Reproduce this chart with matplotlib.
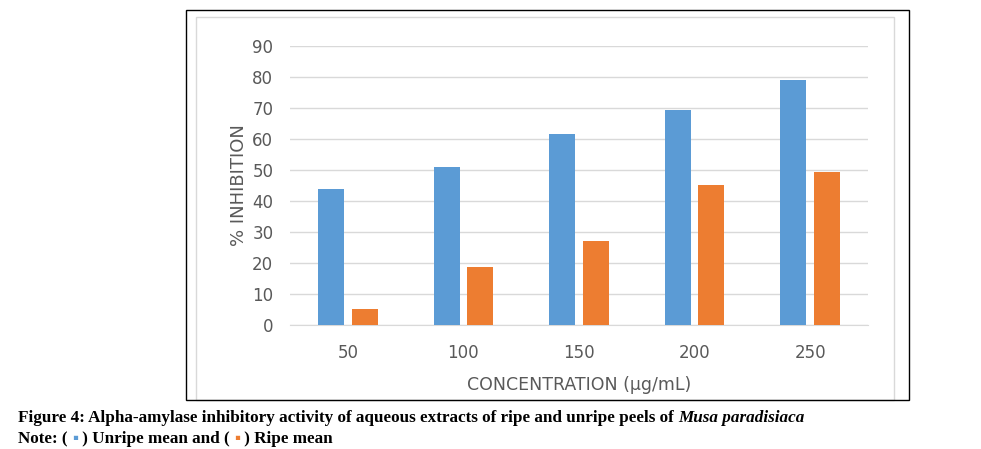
import matplotlib
matplotlib.use("Agg")
import matplotlib.pyplot as plt
from matplotlib.patches import Rectangle
import numpy as np

concentrations = ["50", "100", "150", "200", "250"]
unripe_mean = [44.0, 51.0, 61.5, 69.2, 79.0]
ripe_mean = [5.3, 18.7, 27.0, 45.3, 49.5]
y_ticks = [0, 10, 20, 30, 40, 50, 60, 70, 80, 90]

W, H = 981, 449
BLUE = "#5B9BD5"
ORANGE = "#ED7D31"
GRAY_TXT = "#595959"

fig = plt.figure(figsize=(W / 100, H / 100), dpi=100)

def px(x0, y0, x1, y1):
    # pixel box (top-left origin) -> figure fraction
    return [x0 / W, 1 - y1 / H, (x1 - x0) / W, (y1 - y0) / H]

# inner chart-area border (bottom hidden under the frame) and outer black frame
fig.patches.append(Rectangle((196 / W, 1 - 400 / H), (894 - 196) / W, (400 - 17) / H,
                             transform=fig.transFigure, fill=False, ec="#D9D9D9", lw=1.0))
fig.patches.append(Rectangle((186 / W, 1 - 400 / H), (909 - 186) / W, (400 - 10) / H,
                             transform=fig.transFigure, fill=False, ec="black", lw=1.0))

ax = fig.add_axes(px(290, 46, 868, 325))
x = np.arange(len(concentrations))
bw = 0.225
off = 0.145
ax.bar(x - off, unripe_mean, bw, color=BLUE, zorder=3)
ax.bar(x + off, ripe_mean, bw, color=ORANGE, zorder=3)

ax.set_xlim(-0.5, len(concentrations) - 0.5)
ax.set_ylim(0, 90)
ax.set_yticks(y_ticks)
ax.set_xticks(x)
ax.set_xticklabels(concentrations)
ax.grid(axis="y", color="#D9D9D9", lw=1.0, zorder=0)
for s in ["top", "right", "left"]:
    ax.spines[s].set_visible(False)
ax.spines["bottom"].set_color("#D9D9D9")
ax.tick_params(length=0, colors=GRAY_TXT, labelsize=12)
ax.tick_params(axis="y", pad=12)
ax.tick_params(axis="x", pad=14)
ax.set_ylabel("% INHIBITION", fontsize=13, color=GRAY_TXT, labelpad=3)
ax.set_xlabel("CONCENTRATION (µg/mL)", fontsize=12.5, color=GRAY_TXT, labelpad=10)

# caption
cap_font = dict(family="Liberation Serif", weight="bold", fontsize=12.3)
fig.canvas.draw()
r = fig.canvas.get_renderer()

def chain(parts, x0, y):
    xx = x0
    for txt, kw in parts:
        t = fig.text(xx / W, 1 - y / H, txt, va="baseline", ha="left", **kw)
        bb = t.get_window_extent(renderer=r)
        xx += bb.width

chain([("Figure 4: Alpha-amylase inhibitory activity of aqueous extracts of ripe and unripe peels of ", cap_font),
       ("Musa paradisiaca", dict(cap_font, style="italic"))], 18, 422)
chain([("Note: ( ", cap_font), ("\u25aa", dict(cap_font, color=BLUE)),
       (" ) Unripe mean and ( ", cap_font), ("\u25aa", dict(cap_font, color=ORANGE)),
       (" ) Ripe mean", cap_font)], 18, 443)

fig.savefig("out.png", dpi=100)
